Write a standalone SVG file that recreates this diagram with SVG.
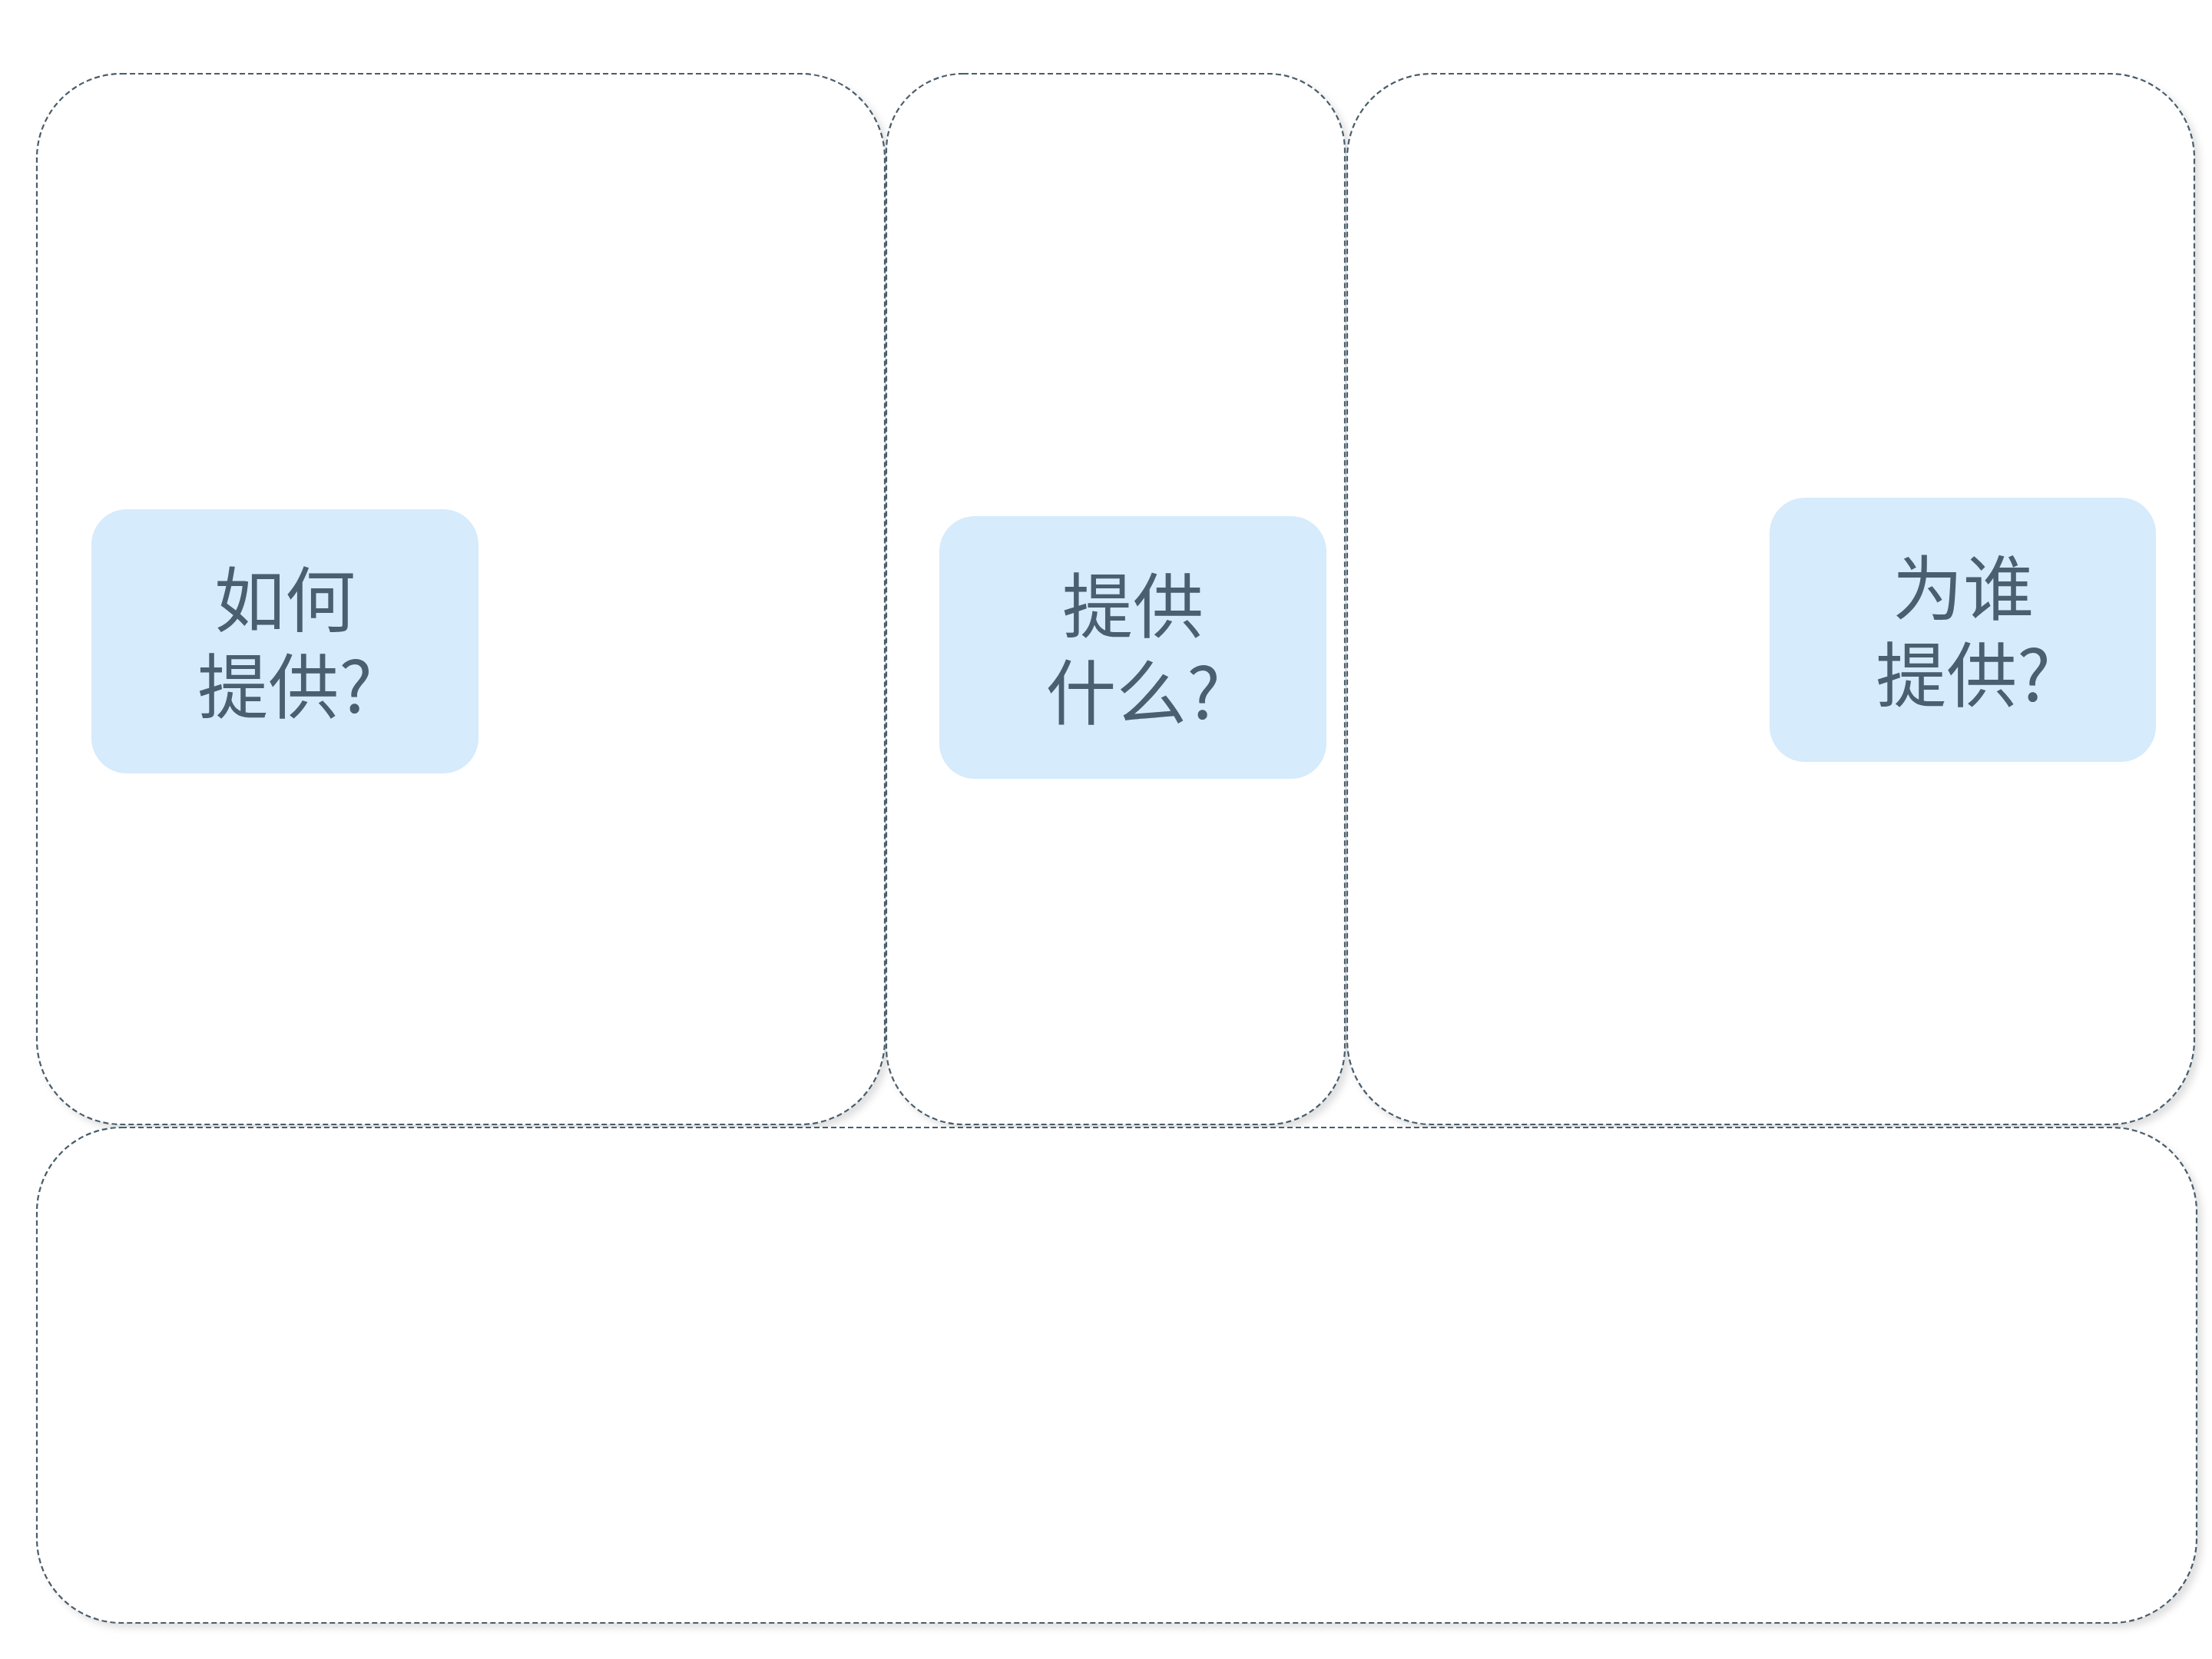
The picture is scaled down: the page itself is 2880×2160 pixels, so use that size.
<svg xmlns="http://www.w3.org/2000/svg" width="2880" height="2160" viewBox="0 0 2880 2160">
<defs>
<filter id="sh" x="-5%" y="-5%" width="110%" height="110%"><feDropShadow dx="6" dy="6" stdDeviation="5" flood-color="#000" flood-opacity="0.12"/></filter>
<style>
.panel{fill:#fff;stroke:#4a5d6b;stroke-width:2.2;stroke-dasharray:7 4;filter:url(#sh)}
.box{fill:#d6ebfc}
.t{font-family:"Noto Sans CJK SC",sans-serif;font-size:92px;fill:#4a6070;text-anchor:middle}
</style>
</defs>
<rect width="2880" height="2160" fill="#fff"/>
<g id="panel-how"><rect class="panel" x="48" y="96" width="1104" height="1368" rx="110"/></g>
<g id="panel-what"><rect class="panel" x="1154" y="96" width="597" height="1368" rx="100"/></g>
<g id="panel-who"><rect class="panel" x="1754" y="96" width="1103" height="1368" rx="110"/></g>
<g id="panel-bottom"><rect class="panel" x="48" y="1468" width="2812" height="645" rx="110"/></g>
<g id="node-how"><rect class="box" x="119" y="663" width="504" height="344" rx="46"/>
<text class="t" x="371" y="815">如何</text><text class="t" x="371" y="928">提供?</text></g>
<g id="node-what"><rect class="box" x="1223" y="672" width="504" height="342" rx="46"/>
<text class="t" x="1475" y="823">提供</text><text class="t" x="1475" y="936">什么?</text></g>
<g id="node-who"><rect class="box" x="2304" y="648" width="503" height="344" rx="46"/>
<text class="t" x="2556" y="800">为谁</text><text class="t" x="2556" y="913">提供?</text></g>
<g id="connectors"/>
</svg>
